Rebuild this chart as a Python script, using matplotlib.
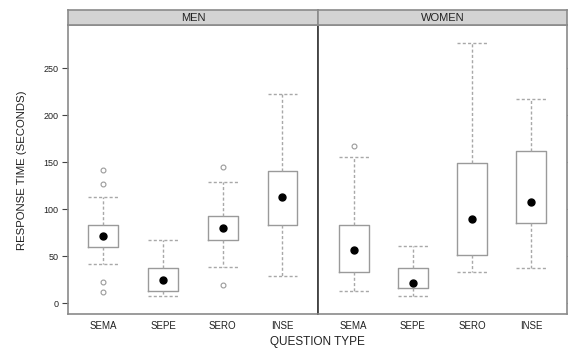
import matplotlib
matplotlib.use("Agg")
import matplotlib.pyplot as plt

plt.rcParams['font.family'] = ['Liberation Sans', 'DejaVu Sans']

categories = ["SEMA", "SEPE", "SERO", "INSE"]
panels = ["MEN", "WOMEN"]

# five-number summaries per question type (seconds)
men_whislo = [41.5, 7.8, 38.3, 29.0]
men_q1 = [59.6, 13.4, 67.3, 83.3]
men_med = [71.3, 24.8, 80.4, 113.4]
men_q3 = [83.3, 37.2, 93.2, 141.0]
men_whishi = [112.8, 67.3, 128.7, 222.3]
men_fliers = [[141.8, 126.9, 23.0, 11.7], [], [145.3, 19.5], []]

women_whislo = [13.4, 7.8, 33.6, 37.2]
women_q1 = [33.6, 16.0, 51.4, 85.7]
women_med = [56.7, 21.9, 89.4, 107.4]
women_q3 = [83.3, 37.2, 148.9, 162.3]
women_whishi = [155.3, 61.0, 276.6, 217.0]
women_fliers = [[167.7], [], [], []]

yticks = [0, 50, 100, 150, 200, 250]

W, H = 568, 351
fig = plt.figure(figsize=(W / 100, H / 100), dpi=100)

def fx(px):
    return px / W

def fy(py):
    return 1 - py / H

left_px, mid_px, right_px = 67.5, 318.3, 566.7
top_px, bot_px, strip_top_px = 25.3, 314.0, 10.0

ax_m = fig.add_axes([fx(left_px), fy(bot_px), fx(mid_px - left_px), (bot_px - top_px) / H])
ax_w = fig.add_axes([fx(mid_px), fy(bot_px), fx(right_px - mid_px), (bot_px - top_px) / H])

box_col = '#9a9a9a'
whisk_col = '#a8a8a8'
spine_col = '#8a8a8a'
text_col = '#222222'

data = {
    "MEN": (men_whislo, men_q1, men_med, men_q3, men_whishi, men_fliers),
    "WOMEN": (women_whislo, women_q1, women_med, women_q3, women_whishi, women_fliers),
}

for ax, name in zip([ax_m, ax_w], panels):
    wl, q1, med, q3, wh, fl = data[name]
    stats = []
    for i, c in enumerate(categories):
        stats.append(dict(label=c, whislo=wl[i], q1=q1[i], med=med[i],
                          q3=q3[i], whishi=wh[i], fliers=fl[i]))
    pos = list(range(1, len(categories) + 1))
    ax.bxp(stats, positions=pos, widths=0.5, showfliers=True,
           boxprops=dict(color=box_col, linewidth=1.0),
           whiskerprops=dict(color=whisk_col, linewidth=1.0, linestyle=(0, (2.2, 1.6))),
           capprops=dict(color=whisk_col, linewidth=1.0, linestyle=(0, (2.2, 1.6))),
           capwidths=0.5,
           medianprops=dict(linewidth=0, color='none'),
           flierprops=dict(marker='o', markerfacecolor='none', markeredgecolor=box_col,
                           markersize=3.5, markeredgewidth=0.8))
    ax.plot(pos, med, 'o', color='black', markersize=5, zorder=5)
    ax.set_xlim(0.4, 4.6)
    ax.set_ylim(-11.4, 295.7)
    ax.set_xticks(pos)
    ax.set_xticklabels(categories, fontsize=7, color=text_col)
    ax.tick_params(axis='x', length=0, pad=5)
    for s in ax.spines.values():
        s.set_color(spine_col)
        s.set_linewidth(1.2)

    # strip label above the panel
    pos_ax = ax.get_position()
    sax = fig.add_axes([pos_ax.x0, fy(top_px), pos_ax.width, (top_px - strip_top_px) / H])
    sax.set_facecolor('#d3d3d3')
    sax.set_xticks([])
    sax.set_yticks([])
    for s in sax.spines.values():
        s.set_color(spine_col)
        s.set_linewidth(1.2)
    sax.text(0.5, 0.45, name, ha='center', va='center', fontsize=8, color=text_col,
             transform=sax.transAxes)

ax_m.set_yticks(yticks)
ax_m.set_yticklabels([str(v) for v in yticks], fontsize=6.5, color=text_col)
ax_m.tick_params(axis='y', length=4, pad=2.5, color='#444444', width=0.8)

ax_w.set_yticks(yticks)
ax_w.tick_params(axis='y', left=False, labelleft=False, right=True, length=4,
                 color='#444444', width=0.8)
ax_w.spines['left'].set_color('#333333')

fig.text(fx(22), fy(170), "RESPONSE TIME (SECONDS)", rotation=90, ha='center', va='center',
         fontsize=8.2, color=text_col)
fig.text(fx(317), fy(342), "QUESTION TYPE", ha='center', va='center',
         fontsize=8.5, color=text_col)

fig.savefig("out.png", dpi=100)
